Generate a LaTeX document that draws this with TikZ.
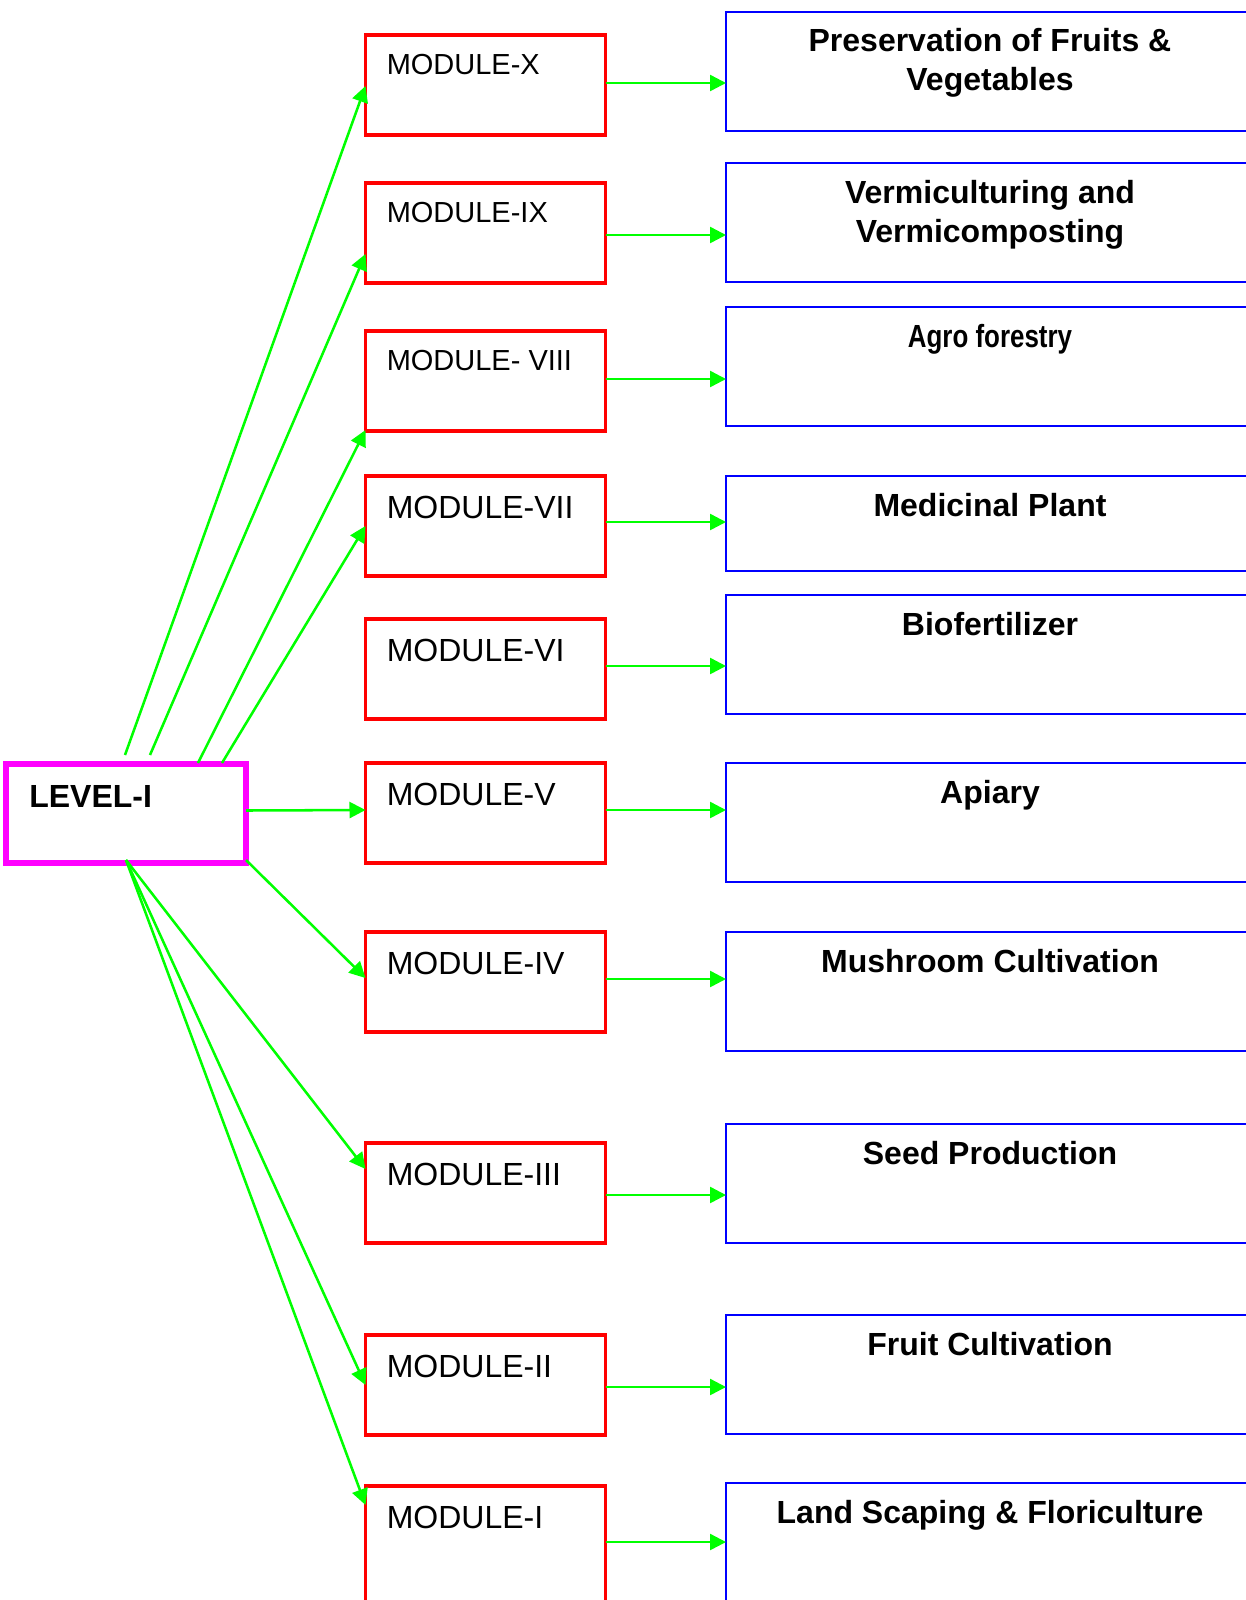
\documentclass[tikz,border=0pt]{standalone}
\usepackage{fontspec}
\setmainfont{Liberation Sans}
\newfontfamily\narrowfont{Liberation Sans}[FakeStretch=0.81]
\usetikzlibrary{arrows.meta,calc}
\definecolor{boxred}{RGB}{255,0,0}
\definecolor{boxblue}{RGB}{0,0,255}
\definecolor{boxmag}{RGB}{255,0,255}
\definecolor{linkgreen}{RGB}{0,255,0}
\tikzset{
  modbox/.style={draw=boxred, line width=2.5pt, minimum width=180pt, minimum height=75pt, anchor=north west, inner sep=0pt, outer sep=0pt},
  topbox/.style={draw=boxblue, line width=1.5pt, minimum width=396pt, minimum height=89.25pt, anchor=north west, inner sep=0pt, outer sep=0pt},
  lvlbox/.style={draw=boxmag, line width=4.5pt, minimum width=180pt, minimum height=74.25pt, anchor=north west, inner sep=0pt, outer sep=0pt},
  modtext/.style={anchor=base west, inner sep=0pt, font=\fontsize{24pt}{29pt}\selectfont},
  modtextsm/.style={anchor=base west, inner sep=0pt, font=\fontsize{21.75pt}{26pt}\selectfont},
  toptext/.style={anchor=base, inner sep=0pt, align=center, font=\bfseries\fontsize{24pt}{29.25pt}\selectfont},
  link/.style={draw=linkgreen, line width=1.9pt, -{Triangle[length=12pt,width=12pt]}},
}
\begin{document}
\begin{tikzpicture}[x=0.75pt,y=-0.75pt]
\clip (0,0) rectangle (1246,1600);
\fill[white] (0,0) rectangle (1246,1600);
% level box
\node[lvlbox] (lev) at (6,764) {};
\node[anchor=base west, inner sep=0pt, font=\bfseries\fontsize{24pt}{29pt}\selectfont] (levt) at (29,807) {LEVEL-I};
% module boxes
\node[modbox] (m10) at (365.5,35) {};
\node[modbox] (m9) at (365.5,183) {};
\node[modbox] (m8) at (365.5,331) {};
\node[modbox] (m7) at (365.5,476) {};
\node[modbox] (m6) at (365.5,619) {};
\node[modbox] (m5) at (365.5,763) {};
\node[modbox] (m4) at (365.5,932) {};
\node[modbox] (m3) at (365.5,1143) {};
\node[modbox] (m2) at (365.5,1335) {};
\node[modbox, minimum height=97.5pt] (m1) at (365.5,1486) {};
\node[modtextsm] (t10) at ($(m10.north west)+(21,39)$) {MODULE-X};
\node[modtextsm] (t9) at ($(m9.north west)+(21,39)$) {MODULE-IX};
\node[modtextsm] (t8) at ($(m8.north west)+(21,39)$) {MODULE- VIII};
\node[modtext] (t7) at ($(m7.north west)+(21,42)$) {MODULE-VII};
\node[modtext] (t6) at ($(m6.north west)+(21,42)$) {MODULE-VI};
\node[modtext] (t5) at ($(m5.north west)+(21,42)$) {MODULE-V};
\node[modtext] (t4) at ($(m4.north west)+(21,42)$) {MODULE-IV};
\node[modtext] (t3) at ($(m3.north west)+(21,42)$) {MODULE-III};
\node[modtext] (t2) at ($(m2.north west)+(21,42)$) {MODULE-II};
\node[modtext] (t1) at ($(m1.north west)+(21,42)$) {MODULE-I};
% topic boxes
\node[topbox] (b10) at (726,11.5) {};
\node[topbox] (b9) at (726,163) {};
\node[topbox] (b8) at (726,307) {};
\node[topbox, minimum height=70.9pt] (b7) at (726,476) {};
\node[topbox] (b6) at (726,595) {};
\node[topbox] (b5) at (726,763) {};
\node[topbox] (b4) at (726,932) {};
\node[topbox] (b3) at (726,1124) {};
\node[topbox] (b2) at (726,1315) {};
\node[topbox, minimum height=97.5pt] (b1) at (726,1483) {};
\node[toptext] (s10) at ($(b10.north west)+(264,79)$) {Preservation of Fruits \&\\Vegetables};
\node[toptext] (s9) at ($(b9.north west)+(264,79)$) {Vermiculturing and\\Vermicomposting};
\node[toptext, font=\narrowfont\bfseries\fontsize{24pt}{29.25pt}\selectfont] (s8) at ($(b8.north west)+(264,40)$) {Agro forestry};
\node[toptext] (s7) at ($(b7.north west)+(264,40)$) {Medicinal Plant};
\node[toptext] (s6) at ($(b6.north west)+(264,40)$) {Biofertilizer};
\node[toptext] (s5) at ($(b5.north west)+(264,40)$) {Apiary};
\node[toptext] (s4) at ($(b4.north west)+(264,40)$) {Mushroom Cultivation};
\node[toptext] (s3) at ($(b3.north west)+(264,40)$) {Seed Production};
\node[toptext] (s2) at ($(b2.north west)+(264,40)$) {Fruit Cultivation};
\node[toptext] (s1) at ($(b1.north west)+(264,40)$) {Land Scaping \& Floriculture};
% module -> topic
\foreach \i/\d in {10/48,9/52,8/48,7/46,6/47,5/47,4/47,3/52,2/52,1/56} {
  \draw[link] ($(m\i.north east)+(0,\d)$) -- ($(m\i.north east -| b\i.west)+(0,\d)$);
}
% level -> modules
\draw[link] ($(lev.north west)+(119,-9)$) -- ($(m10.north west)+(0,51)$);
\draw[link] ($(lev.north west)+(144,-9)$) -- ($(m9.north west)+(0,71)$);
\draw[link] ($(lev.north west)+(192,-1)$) -- ($(m8.north west)+(0,99)$);
\draw[link] ($(lev.north west)+(216,-1)$) -- ($(m7.north west)+(0,50)$);
\draw[link] ($(lev.east)+(0,-3)$) -- ($(m5.west)+(0,-3)$);
\draw[link] ($(lev.south east)+(0,-3)$) -- ($(m4.north west)+(0,46)$);
\draw[link] ($(lev.south)+(0,-3)$) -- ($(m3.north west)+(0,26)$);
\draw[link] ($(lev.south)+(0,-3)$) -- ($(m2.north west)+(0,50)$);
\draw[link] ($(lev.south)+(0,-3)$) -- ($(m1.north west)+(0,19)$);
\end{tikzpicture}
\end{document}
